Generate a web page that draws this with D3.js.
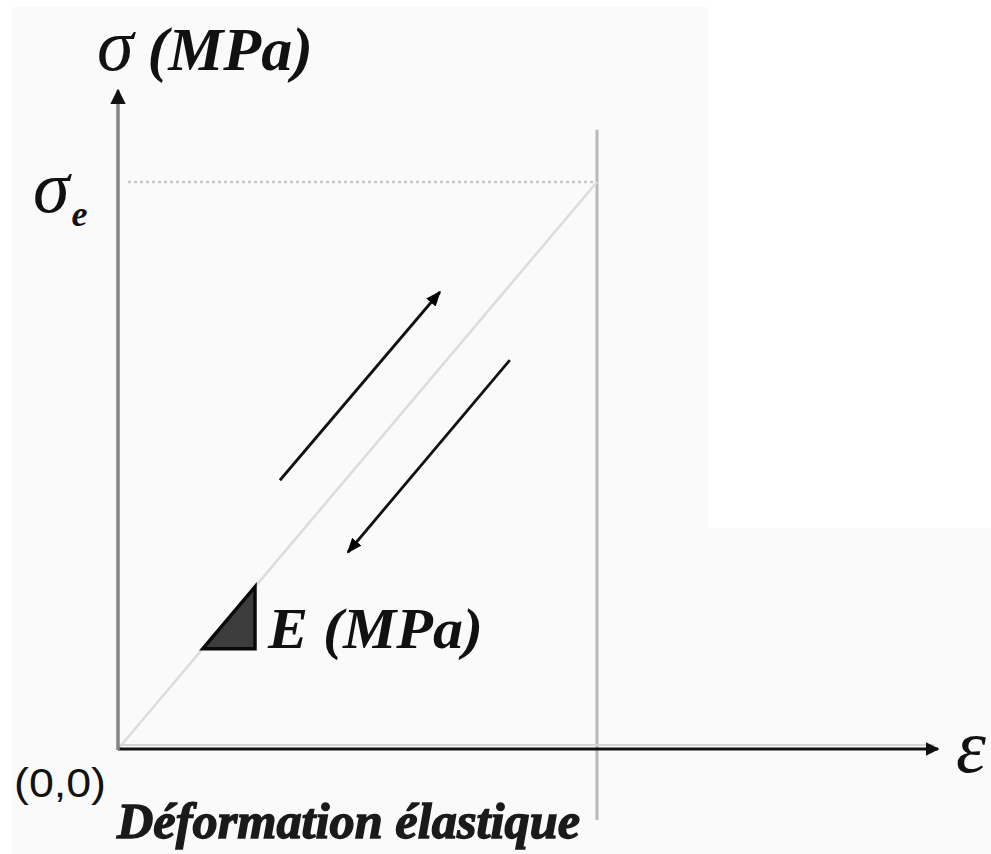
<!DOCTYPE html>
<html>
<head>
<meta charset="utf-8">
<script src="https://cdn.jsdelivr.net/npm/d3@7"></script>
<style>
  html, body { margin: 0; padding: 0; background: #fff; }
  svg { display: block; }
</style>
</head>
<body>
<div id="chart"></div>
<script>
// elastic stress-strain sketch, values in units of the elastic limit
const strain = [0, 1];            // ε / εe
const stress = [0, 1];            // σ / σe
const axisMax = { strain: 1.712, stress: 1.162 };
const limitLineStress = [1.092, -0.125]; // vertical line at εe, top / bottom
const loadArrow = [[0.338, 0.474], [0.672, 0.806]];
const unloadArrow = [[0.818, 0.686], [0.480, 0.347]];
const slopeTriangle = [[0.177, 0.177], [0.286, 0.177], [0.286, 0.286]];
const labels = {
  yTitle: "σ (MPa)",
  yLimit: "σ",
  yLimitSub: "e",
  xTitle: "ε",
  origin: "(0,0)",
  modulus: "E (MPa)",
  zone: "Déformation élastique"
};

const width = 991, height = 854;
const x = d3.scaleLinear().domain([0, 1]).range([118, 597]);
const y = d3.scaleLinear().domain([0, 1]).range([749, 182]);

const svg = d3.select("#chart").append("svg")
  .attr("width", width)
  .attr("height", height);

const defs = svg.append("defs");
defs.append("marker")
  .attr("id", "head")
  .attr("viewBox", "0 0 10 10")
  .attr("refX", 9).attr("refY", 5)
  .attr("markerWidth", 5.5).attr("markerHeight", 5.5)
  .attr("markerUnits", "strokeWidth")
  .attr("orient", "auto")
  .append("path").attr("d", "M0,1 L10,5 L0,9 Z").attr("fill", "#000");
defs.append("marker")
  .attr("id", "axisHead")
  .attr("viewBox", "0 0 10 10")
  .attr("refX", 9).attr("refY", 5)
  .attr("markerWidth", 4.5).attr("markerHeight", 4.5)
  .attr("markerUnits", "strokeWidth")
  .attr("orient", "auto")
  .append("path").attr("d", "M0,0 L10,5 L0,10 Z").attr("fill", "#111");

// background panels (scanned look)
svg.append("rect").attr("x", 12).attr("y", 7).attr("width", width - 12).attr("height", height - 7).attr("fill", "#fafafa");
svg.append("rect").attr("x", 708).attr("y", 0).attr("width", width - 708).attr("height", 528).attr("fill", "#fff");

const line = d3.line().x(d => x(d[0])).y(d => y(d[1]));

// limit guides
svg.append("line")
  .attr("x1", x(0) + 10).attr("x2", x(1))
  .attr("y1", y(stress[1])).attr("y2", y(stress[1]))
  .attr("stroke", "#c8c8c8").attr("stroke-width", 2.5)
  .attr("stroke-dasharray", "3,3");
svg.append("line")
  .attr("x1", x(1)).attr("x2", x(1))
  .attr("y1", y(limitLineStress[0])).attr("y2", y(limitLineStress[1]))
  .attr("stroke", "#b9b9b9").attr("stroke-width", 3);

// elastic line
svg.append("path")
  .datum(d3.zip(strain, stress))
  .attr("d", line)
  .attr("fill", "none")
  .attr("stroke", "#dcdcdc")
  .attr("stroke-width", 2.5);

// axes
svg.append("line")
  .attr("x1", x(0)).attr("x2", x(axisMax.strain) - 4)
  .attr("y1", y(0) - 4).attr("y2", y(0) - 4)
  .attr("stroke", "#d4d4d4").attr("stroke-width", 2);
svg.append("line")
  .attr("x1", x(0)).attr("x2", x(axisMax.strain))
  .attr("y1", y(0)).attr("y2", y(0))
  .attr("stroke", "#111").attr("stroke-width", 3)
  .attr("marker-end", "url(#axisHead)");
svg.append("line")
  .attr("x1", x(0)).attr("x2", x(0))
  .attr("y1", y(0) + 1).attr("y2", y(axisMax.stress))
  .attr("stroke", "#858585").attr("stroke-width", 3.5)
  .attr("marker-end", "url(#axisHead)");

// load / unload arrows
svg.selectAll("path.arrow")
  .data([loadArrow, unloadArrow])
  .join("path")
  .attr("class", "arrow")
  .attr("d", line)
  .attr("stroke", "#111")
  .attr("stroke-width", 2.8)
  .attr("marker-end", "url(#head)");

// slope triangle
svg.append("path")
  .datum(slopeTriangle)
  .attr("d", d => line(d) + "Z")
  .attr("fill", "#3c3c3c")
  .attr("stroke", "#0a0a0a")
  .attr("stroke-width", 3.5)
  .attr("stroke-linejoin", "miter");

const serif = "'Liberation Serif', 'Times New Roman', serif";

const yTitle = svg.append("text")
  .attr("x", 97).attr("y", 70)
  .style("font-family", serif)
  .style("font-style", "italic")
  .style("font-weight", "bold")
  .style("font-size", "62px")
  .attr("fill", "#111");
yTitle.append("tspan").style("font-size", "74px").style("font-weight", "normal").text(labels.yTitle.slice(0, 1));
yTitle.append("tspan").attr("dx", 14).text(labels.yTitle.slice(1).trim());

const yLimit = svg.append("text")
  .attr("x", 33).attr("y", 212)
  .style("font-family", serif)
  .style("font-style", "italic")
  .attr("fill", "#111");
yLimit.append("tspan").style("font-size", "74px").text(labels.yLimit);
yLimit.append("tspan").attr("dx", 2).attr("dy", 14).style("font-size", "36px").style("font-weight", "bold").text(labels.yLimitSub);

svg.append("text")
  .attr("x", 956).attr("y", 772)
  .style("font-family", serif)
  .style("font-style", "italic")
  .style("font-size", "76px")
  .attr("fill", "#111")
  .text(labels.xTitle);

svg.append("text")
  .attr("x", 14).attr("y", 797)
  .attr("textLength", 92).attr("lengthAdjust", "spacingAndGlyphs")
  .style("font-family", "'Liberation Sans', Arial, sans-serif")
  .style("font-size", "40px")
  .attr("fill", "#111")
  .text(labels.origin);

svg.append("text")
  .attr("x", 268).attr("y", 648)
  .attr("textLength", 215).attr("lengthAdjust", "spacingAndGlyphs")
  .style("font-family", serif)
  .style("font-style", "italic")
  .style("font-weight", "bold")
  .style("font-size", "58px")
  .attr("fill", "#111")
  .text(labels.modulus);

svg.append("text")
  .attr("x", 117).attr("y", 838)
  .attr("textLength", 463).attr("lengthAdjust", "spacingAndGlyphs")
  .style("font-family", serif)
  .style("font-style", "italic")
  .style("font-weight", "bold")
  .style("font-size", "50px")
  .attr("fill", "#1a1a1a")
  .attr("stroke", "#1a1a1a")
  .attr("stroke-width", 1.4)
  .text(labels.zone);
</script>
</body>
</html>
